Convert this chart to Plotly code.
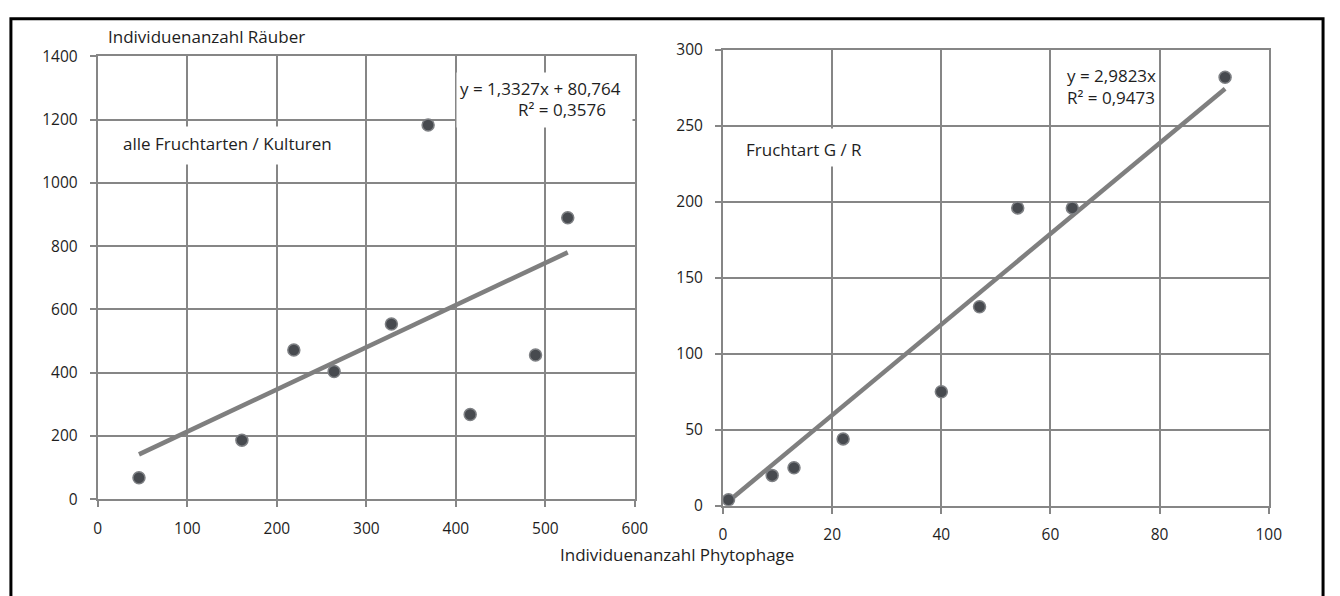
import plotly.graph_objects as go

# ---- data ----
left_x = [46, 161, 219, 264, 328, 369, 416, 489, 525]
left_y = [68, 187, 472, 404, 554, 1183, 268, 456, 890]
left_slope, left_intercept = 1.3327, 80.764
left_eq = "y = 1,3327x + 80,764"
left_r2 = "R² = 0,3576"
left_label = "alle Fruchtarten / Kulturen"

right_x = [1, 9, 13, 22, 40, 47, 54, 64, 92]
right_y = [4, 20, 25, 44, 75, 131, 196, 196, 282]
right_slope, right_intercept = 2.9823, 0.0
right_eq = "y = 2,9823x"
right_r2 = "R² = 0,9473"
right_label = "Fruchtart G / R"

left_xticks = [0, 100, 200, 300, 400, 500, 600]
left_yticks = [0, 200, 400, 600, 800, 1000, 1200, 1400]
right_xticks = [0, 20, 40, 60, 80, 100]
right_yticks = [0, 50, 100, 150, 200, 250, 300]

y_title = "Individuenanzahl Räuber"
x_title = "Individuenanzahl Phytophage"

# ---- layout helpers ----
W, H = 1340, 596
def px(x):
    return x / W
def py(y):
    return 1 - y / H

FONT = "Open Sans"
FS_TICK = 15.5
FS_TXT = 17
TXT = "#1e1e1e"
GRID = "#868686"
MARK = "#474a4f"
MARK_EDGE = "#7e8084"
TREND = "#7f7f7f"

fig = go.Figure()

marker = dict(size=12, color=MARK, line=dict(color=MARK_EDGE, width=1.5))

# left chart
lx0, lx1 = min(left_x), max(left_x)
fig.add_trace(go.Scatter(x=[lx0, lx1],
                         y=[left_slope * lx0 + left_intercept, left_slope * lx1 + left_intercept],
                         mode="lines", line=dict(color=TREND, width=4.5),
                         xaxis="x", yaxis="y", showlegend=False, hoverinfo="skip"))
fig.add_trace(go.Scatter(x=left_x, y=left_y, mode="markers", marker=marker,
                         xaxis="x", yaxis="y", showlegend=False))

# right chart
rx0, rx1 = min(right_x), max(right_x)
fig.add_trace(go.Scatter(x=[rx0, rx1],
                         y=[right_slope * rx0 + right_intercept, right_slope * rx1 + right_intercept],
                         mode="lines", line=dict(color=TREND, width=4.5),
                         xaxis="x2", yaxis="y2", showlegend=False, hoverinfo="skip"))
fig.add_trace(go.Scatter(x=right_x, y=right_y, mode="markers", marker=marker,
                         xaxis="x2", yaxis="y2", showlegend=False))

axis_common = dict(showgrid=True, gridcolor=GRID, gridwidth=2,
                   showline=True, linecolor=GRID, linewidth=2, mirror=True,
                   ticks="outside", ticklen=6, tickcolor=GRID, tickwidth=2,
                   zeroline=False, tickfont=dict(family=FONT, size=FS_TICK, color=TXT))

fig.update_layout(
    width=W, height=H,
    margin=dict(l=0, r=0, t=0, b=0),
    paper_bgcolor="white", plot_bgcolor="white",
    xaxis=dict(domain=[px(95), px(639)], range=[0, 600], tickvals=left_xticks,
               anchor="y", ticklabelstandoff=8, **axis_common),
    yaxis=dict(domain=[py(506), py(46)], range=[0, 1400], tickvals=left_yticks,
               anchor="x", ticklabelstandoff=9, **axis_common),
    xaxis2=dict(domain=[px(728.3), px(1281)], range=[0, 100], tickvals=right_xticks,
                anchor="y2", ticklabelstandoff=8, **axis_common),
    yaxis2=dict(domain=[py(512.7), py(39.3)], range=[0, 300], tickvals=right_yticks,
                anchor="x2", ticklabelstandoff=9, **axis_common),
)

annotations = []
def box(x0, y0, x1, y1):
    annotations.append(dict(xref="paper", yref="paper", x=px(x0), y=py(y0),
                            xanchor="left", yanchor="top", text=" ",
                            width=x1 - x0, height=y1 - y0, bgcolor="white",
                            borderpad=0, showarrow=False))
def text(t, x, y, anchor="left"):
    annotations.append(dict(xref="paper", yref="paper", x=px(x), y=py(y),
                            xanchor=anchor, yanchor="middle", text=t, showarrow=False,
                            font=dict(family=FONT, size=FS_TXT, color=TXT)))

box(458, 62, 633, 116)
box(115, 118, 338, 155)
box(745, 120, 872, 157)
box(1070, 52, 1167, 102)

text(left_eq, 543, 79, "center")
text(left_r2, 565, 101, "center")
text(left_label, 119, 137)
text(right_eq, 1075, 66)
text(right_r2, 1075, 89)
text(right_label, 750, 143)
text(y_title, 103, 25)
text(x_title, 682, 563, "center")

fig.update_layout(annotations=annotations)

fig.add_shape(type="rect", xref="paper", yref="paper",
              x0=px(7), x1=px(1336), y0=py(7), y1=-0.05,
              line=dict(color="black", width=3), fillcolor="rgba(0,0,0,0)")

fig.write_html("out.html",
               post_script="document.body.style.margin='0';"
                           "document.documentElement.style.overflow='hidden';")
